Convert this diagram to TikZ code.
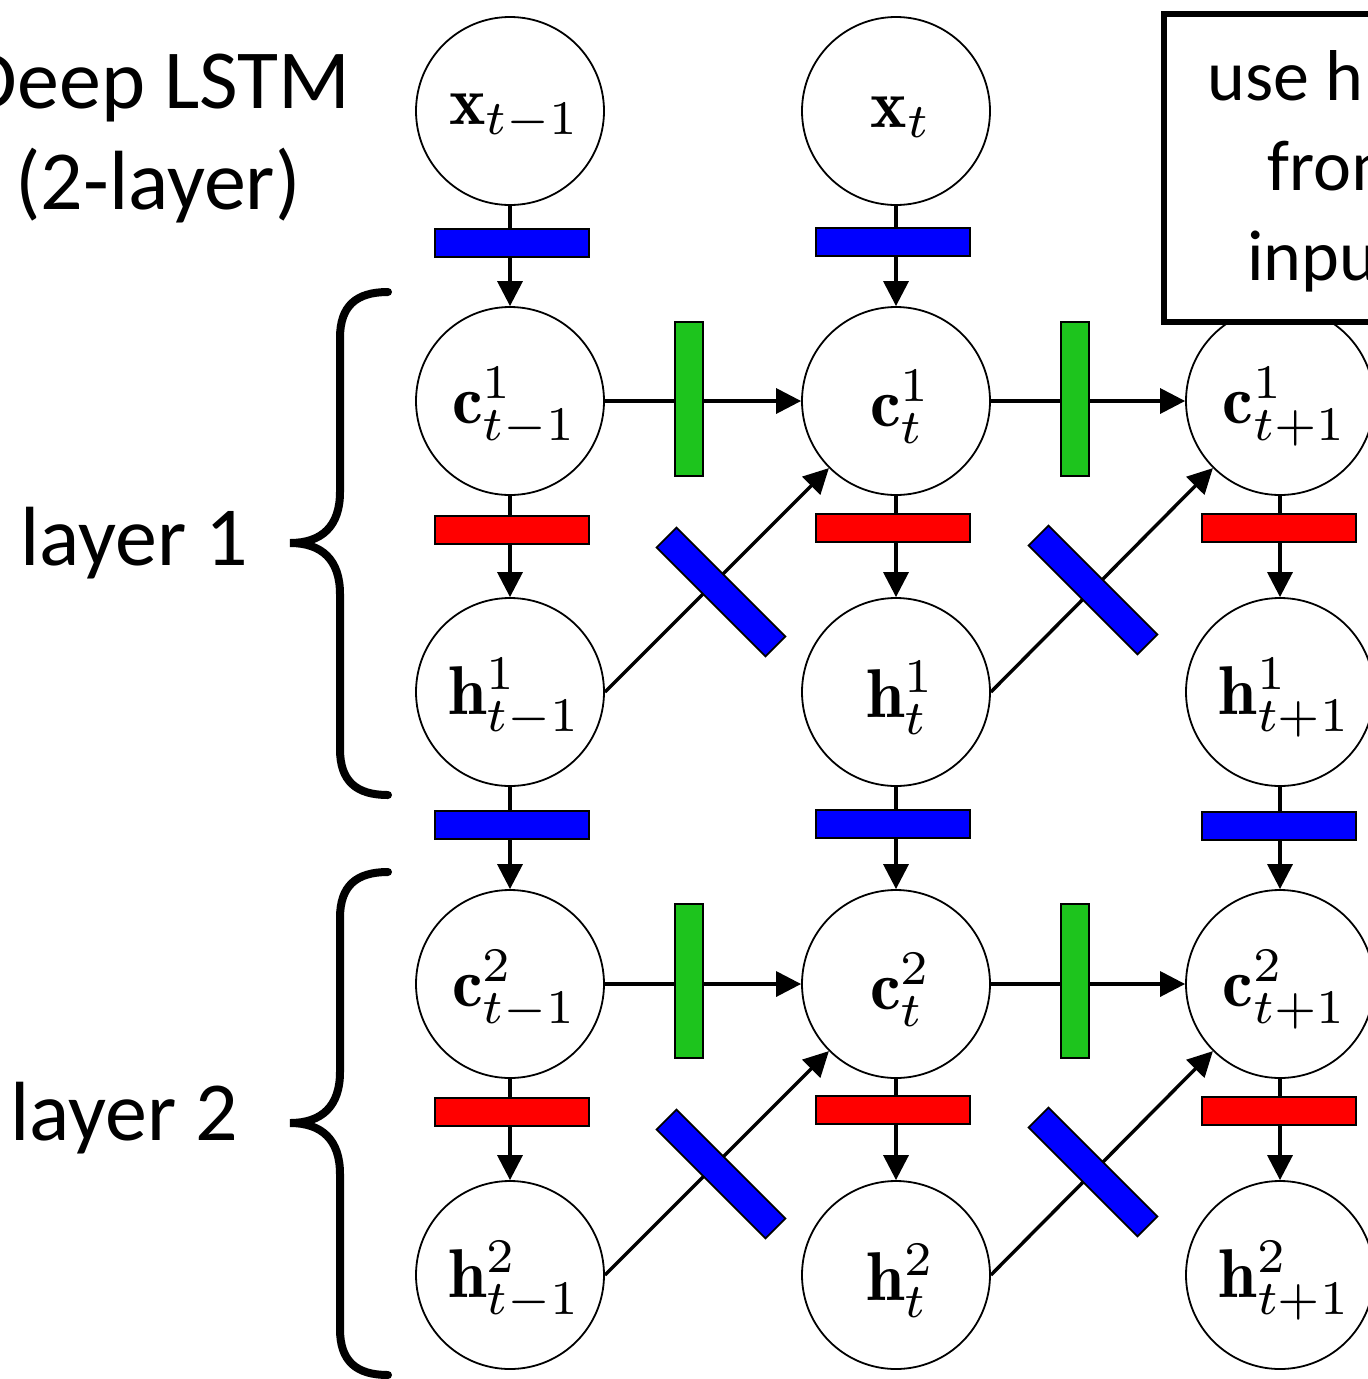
\documentclass[tikz,border=0pt]{standalone}
\usepackage{graphicx}
\usepackage{fontspec}
\newfontfamily\slidefont{Carlito}
\usetikzlibrary{arrows.meta}
\definecolor{gateblue}{RGB}{0,0,255}
\definecolor{gatered}{RGB}{255,0,0}
\definecolor{gategreen}{RGB}{29,196,29}
% math labels are set at normal size and enlarged as a whole,
% so that sub- and superscripts keep their proportions
\newcommand\statelabel[1]{\hspace*{10pt}\raisebox{-6pt}[\height][\depth]{\scalebox{6.9}{$#1$}}}

\begin{document}
\begin{tikzpicture}[x=1pt,y=-1pt,
  unit/.style={circle, draw, line width=1.8pt, minimum size=188pt, inner sep=0pt, fill=white},
  gate/.style={draw, line width=1.8pt, minimum width=154pt, minimum height=28pt, inner sep=0pt},
  ingate/.style={gate, fill=gateblue},
  outgate/.style={gate, fill=gatered},
  keepgate/.style={gate, fill=gategreen, rotate=90},
  recgate/.style={gate, fill=gateblue, rotate=-45},
  flow/.style={line width=3.4pt, -{Triangle[length=25pt,width=25pt]}},
  brace/.style={line width=8pt, line cap=round},
  label/.style={font=\slidefont\fontsize{84}{100}\selectfont, inner sep=0pt},
  notetext/.style={font=\slidefont\fontsize{72}{86}\selectfont, inner sep=0pt, anchor=base west}
]
\useasboundingbox (0,0) rectangle (1368,1379);
\clip (0,0) rectangle (1368,1379);

% state nodes
\node[unit] (x1) at (510,111) {\statelabel{\mathbf{x}_{t-1}}};
\node[unit] (x2) at (896,111) {\statelabel{\mathbf{x}_{t}}};

\node[unit] (c11) at (510,401) {\statelabel{\mathbf{c}^1_{t-1}}};
\node[unit] (c12) at (896,401) {\statelabel{\mathbf{c}^1_{t}}};
\node[unit] (c13) at (1280,401) {\statelabel{\mathbf{c}^1_{t+1}}};

\node[unit] (h11) at (510,692) {\statelabel{\mathbf{h}^1_{t-1}}};
\node[unit] (h12) at (896,692) {\statelabel{\mathbf{h}^1_{t}}};
\node[unit] (h13) at (1280,692) {\statelabel{\mathbf{h}^1_{t+1}}};

\node[unit] (c21) at (510,984) {\statelabel{\mathbf{c}^2_{t-1}}};
\node[unit] (c22) at (896,984) {\statelabel{\mathbf{c}^2_{t}}};
\node[unit] (c23) at (1280,984) {\statelabel{\mathbf{c}^2_{t+1}}};

\node[unit] (h21) at (510,1275) {\statelabel{\mathbf{h}^2_{t-1}}};
\node[unit] (h22) at (896,1275) {\statelabel{\mathbf{h}^2_{t}}};
\node[unit] (h23) at (1280,1275) {\statelabel{\mathbf{h}^2_{t+1}}};

% connections
\draw[flow] (x1) -- (c11);
\draw[flow] (x2) -- (c12);
\foreach \col in {1,2,3} {
  \draw[flow] (c1\col) -- (h1\col);
  \draw[flow] (h1\col) -- (c2\col);
  \draw[flow] (c2\col) -- (h2\col);
}
\foreach \a/\b in {1/2,2/3} {
  \draw[flow] (c1\a.east) -- (c1\b.west);
  \draw[flow] (c2\a.east) -- (c2\b.west);
  \draw[flow] (h1\a.east) -- (c1\b.south west);
  \draw[flow] (h2\a.east) -- (c2\b.south west);
}

% gates on the connections
\node[ingate] (gx1) at (512,243) {};
\node[ingate] (gx2) at (893,242) {};
\node[outgate] (go11) at (512,530) {};
\node[outgate] (go12) at (893,528) {};
\node[outgate] (go13) at (1279,528) {};
\node[ingate] (gi21) at (512,825) {};
\node[ingate] (gi22) at (893,824) {};
\node[ingate] (gi23) at (1279,826) {};
\node[outgate] (go21) at (512,1112) {};
\node[outgate] (go22) at (893,1110) {};
\node[outgate] (go23) at (1279,1111) {};

\node[keepgate] (gk11) at (689,399) {};
\node[keepgate] (gk12) at (1075,399) {};
\node[keepgate] (gk21) at (689,981) {};
\node[keepgate] (gk22) at (1075,981) {};

\node[recgate] (gr11) at (721,592) {};
\node[recgate] (gr12) at (1093,590) {};
\node[recgate] (gr21) at (721,1174) {};
\node[recgate] (gr22) at (1093,1172) {};

% layer braces
\draw[brace] (388,292) .. controls (356,292) and (340,306) .. (340,338)
  -- (340,492) .. controls (340,526) and (322,543) .. (290,543)
  .. controls (322,543) and (340,560) .. (340,594)
  -- (340,749) .. controls (340,781) and (356,795) .. (388,795);
\draw[brace] (388,872) .. controls (356,872) and (340,886) .. (340,918)
  -- (340,1072) .. controls (340,1106) and (322,1123) .. (290,1123)
  .. controls (322,1123) and (340,1140) .. (340,1174)
  -- (340,1329) .. controls (340,1361) and (356,1375) .. (388,1375);

% labels
\node[label, anchor=base] (title1) at (158,108) {Deep LSTM};
\node[label, anchor=base] (title2) at (158,209) {(2-layer)};
\node[label, anchor=base] (layer1) at (134,565) {layer 1};
\node[label, anchor=base] (layer2) at (124,1140) {layer 2};

% note box
\node[draw, line width=6pt, fill=white, anchor=north west,
  minimum width=320pt, minimum height=308pt] (note) at (1161,11) {};
\node[notetext] (note1) at (1207,100) {use h};
\node[notetext] (note2) at (1267,190) {from};
\node[notetext] (note3) at (1247,280) {input};
\end{tikzpicture}
\end{document}
